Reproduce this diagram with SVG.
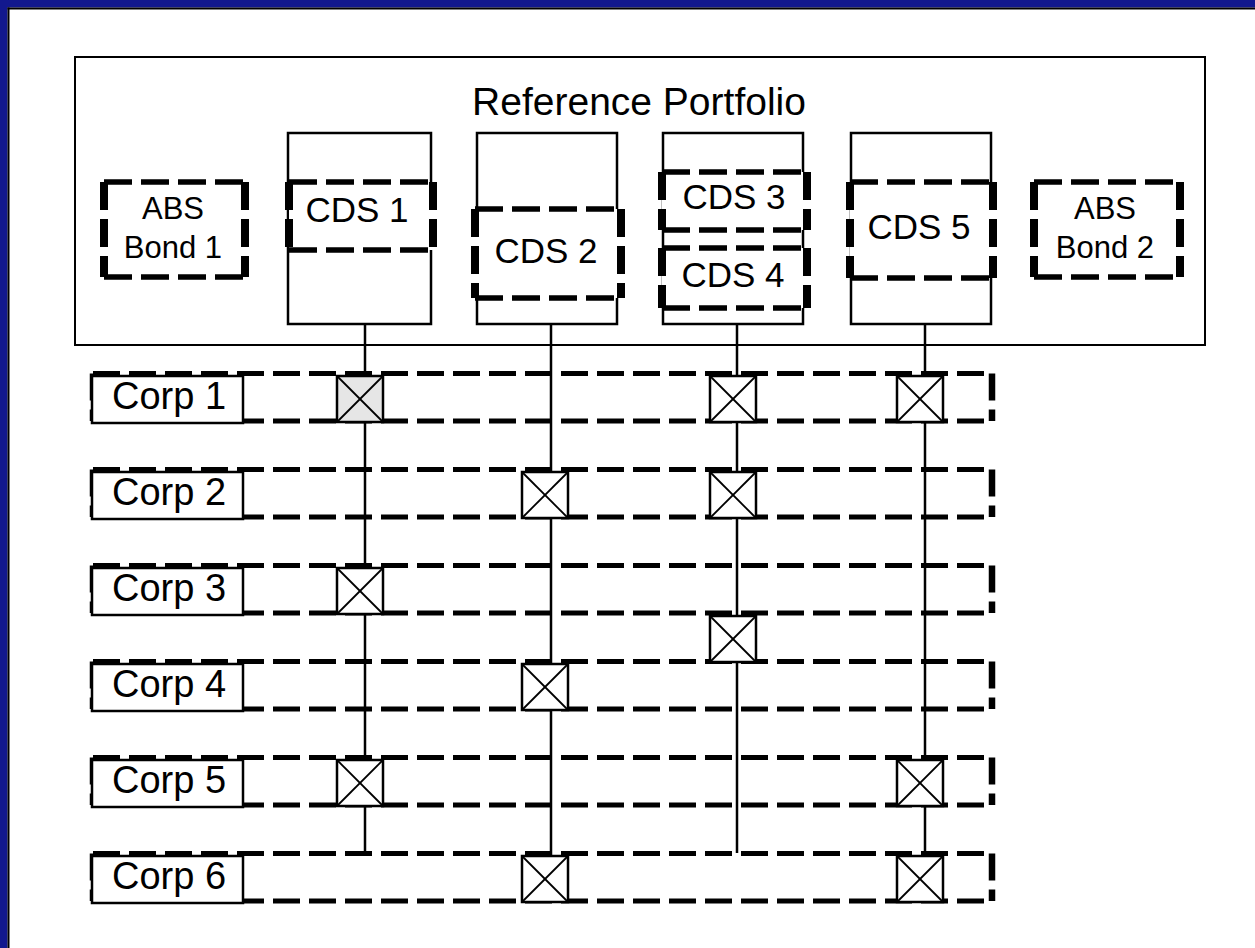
<svg xmlns="http://www.w3.org/2000/svg" width="1255" height="948" viewBox="0 0 1255 948">
<style>
.frame{fill:#12188e}
.edge{fill:#000}
.box{fill:#fff;stroke:#000;stroke-width:2}
.col{fill:#fff;stroke:#000;stroke-width:2.5}
.fillw{fill:#fff}
.dh{fill:none;stroke:#000;stroke-width:5.5;stroke-dasharray:28 9}
.dv{fill:none;stroke:#000;stroke-width:8;stroke-dasharray:28 9}
.band{fill:none;stroke:#000;stroke-width:5;stroke-dasharray:27 9}
.bandv{fill:none;stroke:#000;stroke-width:6.5;stroke-dasharray:27 9}
.lbl{fill:#fff;stroke:#000;stroke-width:2.5}
.xb{fill:#fff;stroke:#000;stroke-width:2.5}
.xg{fill:#e6e6e6;stroke:#000;stroke-width:2.5}
.xl{stroke:#000;stroke-width:1.8}
.conn{stroke:#000;stroke-width:2.5;fill:none}
text{font-family:"Liberation Sans",Arial,sans-serif;fill:#000}
.title{font-size:39px;text-anchor:middle}
.cds{font-size:35px;text-anchor:middle}
.abs{font-size:31px;text-anchor:middle}
.corp{font-size:38px}
</style>
<defs>
<g id="cross">
<line class="xl" x1="0" y1="0" x2="46" y2="46"/>
<line class="xl" x1="46" y1="0" x2="0" y2="46"/>
</g>
</defs>
<rect x="0" y="0" width="1255" height="948" fill="#fff"/>
<rect class="frame" x="0" y="0" width="1255" height="7.5"/>
<rect class="frame" x="0" y="0" width="7.5" height="948"/>
<rect class="edge" x="7.5" y="7.5" width="1247.5" height="2"/>
<rect class="edge" x="7.5" y="7.5" width="2" height="940.5"/>

<g id="portfolio">
<rect class="box" x="75" y="57" width="1130" height="288"/>
<text class="title" x="639" y="115">Reference Portfolio</text>
</g>

<g id="col-cds1"><rect class="col" x="288" y="133" width="143" height="191"/></g>
<g id="col-cds2"><rect class="col" x="477" y="133" width="140" height="191"/></g>
<g id="col-cds34"><rect class="col" x="663" y="133" width="140" height="191"/></g>
<g id="col-cds5"><rect class="col" x="851" y="133" width="140" height="191"/></g>

<g id="abs1"><rect class="fillw" x="104" y="182" width="141" height="95"/>
<path class="dh" d="M104 182H245M104 277H245"/><path class="dv" d="M104 182V277M245 182V277"/>
<text class="abs" x="173" y="219">ABS</text><text class="abs" x="173" y="258">Bond 1</text></g>
<g id="cds1"><rect class="fillw" x="289" y="182" width="144" height="68"/>
<path class="dh" d="M289 182H433M289 250H433"/><path class="dv" d="M289 182V250M433 182V250"/>
<text class="cds" x="357" y="222">CDS 1</text></g>
<g id="cds2"><rect class="fillw" x="475" y="209" width="146" height="89"/>
<path class="dh" d="M475 209H621M475 298H621"/><path class="dv" d="M475 209V298M621 209V298"/>
<text class="cds" x="546" y="263">CDS 2</text></g>
<g id="cds3"><rect class="fillw" x="662" y="172" width="145" height="58"/>
<path class="dh" d="M662 172H807M662 230H807"/><path class="dv" d="M662 172V230M807 172V230"/>
<text class="cds" x="734" y="209">CDS 3</text></g>
<g id="cds4"><rect class="fillw" x="662" y="248" width="145" height="60"/>
<path class="dh" d="M662 248H807M662 308H807"/><path class="dv" d="M662 248V308M807 248V308"/>
<text class="cds" x="733" y="287">CDS 4</text></g>
<g id="cds5"><rect class="fillw" x="850" y="182" width="143" height="96"/>
<path class="dh" d="M850 182H993M850 278H993"/><path class="dv" d="M850 182V278M993 182V278"/>
<text class="cds" x="919" y="239">CDS 5</text></g>
<g id="abs2"><rect class="fillw" x="1034" y="182" width="146" height="95"/>
<path class="dh" d="M1034 182H1180M1034 277H1180"/><path class="dv" d="M1034 182V277M1180 182V277"/>
<text class="abs" x="1105" y="219">ABS</text><text class="abs" x="1105" y="258">Bond 2</text></g>

<g id="bands">
<path class="band" d="M93 373.5H992M93 421H992M93 469.5H992M93 517H992M93 565.5H992M93 613H992M93 661.5H992M93 709H992M93 757.5H992M93 805H992M93 853.5H992M93 901H992"/>
<path class="bandv" d="M992 373.5V421M992 469.5V517M992 565.5V613M992 661.5V709M992 757.5V805M992 853.5V901M93 373.5V421M93 469.5V517M93 565.5V613M93 661.5V709M93 757.5V805M93 853.5V901"/>
</g>

<g id="connectors">
<line class="conn" x1="365" y1="324" x2="365" y2="853"/>
<line class="conn" x1="551" y1="324" x2="551" y2="856"/>
<line class="conn" x1="737" y1="324" x2="737" y2="853"/>
<line class="conn" x1="925" y1="324" x2="925" y2="856"/>
</g>

<g id="links">
<g transform="translate(337,376)"><rect class="xg" width="46" height="46"/><use href="#cross"/></g>
<g transform="translate(710,376)"><rect class="xb" width="46" height="46"/><use href="#cross"/></g>
<g transform="translate(897,376)"><rect class="xb" width="46" height="46"/><use href="#cross"/></g>
<g transform="translate(522,472)"><rect class="xb" width="46" height="46"/><use href="#cross"/></g>
<g transform="translate(710,472)"><rect class="xb" width="46" height="46"/><use href="#cross"/></g>
<g transform="translate(337,568)"><rect class="xb" width="46" height="46"/><use href="#cross"/></g>
<g transform="translate(710,616)"><rect class="xb" width="46" height="46"/><use href="#cross"/></g>
<g transform="translate(522,664)"><rect class="xb" width="46" height="46"/><use href="#cross"/></g>
<g transform="translate(337,760)"><rect class="xb" width="46" height="46"/><use href="#cross"/></g>
<g transform="translate(897,760)"><rect class="xb" width="46" height="46"/><use href="#cross"/></g>
<g transform="translate(522,856)"><rect class="xb" width="46" height="46"/><use href="#cross"/></g>
<g transform="translate(897,856)"><rect class="xb" width="46" height="46"/><use href="#cross"/></g>
</g>

<g id="corp1"><rect class="lbl" x="92" y="376" width="151" height="47"/><text class="corp" x="112" y="409">Corp 1</text></g>
<g id="corp2"><rect class="lbl" x="92" y="472" width="151" height="47"/><text class="corp" x="112" y="505">Corp 2</text></g>
<g id="corp3"><rect class="lbl" x="92" y="568" width="151" height="47"/><text class="corp" x="112" y="601">Corp 3</text></g>
<g id="corp4"><rect class="lbl" x="92" y="664" width="151" height="47"/><text class="corp" x="112" y="697">Corp 4</text></g>
<g id="corp5"><rect class="lbl" x="92" y="760" width="151" height="47"/><text class="corp" x="112" y="793">Corp 5</text></g>
<g id="corp6"><rect class="lbl" x="92" y="856" width="151" height="47"/><text class="corp" x="112" y="889">Corp 6</text></g>
</svg>
